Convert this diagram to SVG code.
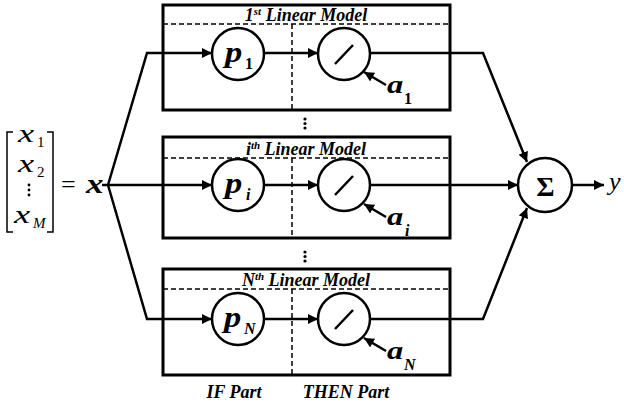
<svg xmlns="http://www.w3.org/2000/svg" width="624" height="404" viewBox="0 0 624 404">
<defs>
<marker id="ah" viewBox="0 0 10 10" refX="10" refY="5" markerWidth="4" markerHeight="4" orient="auto" markerUnits="strokeWidth">
<path d="M0,0 L10,5 L0,10 z" fill="#000"/>
</marker>
</defs>
<style>
.box{fill:#fff;stroke:#000;stroke-width:3}
.dash{fill:none;stroke:#000;stroke-width:1.5;stroke-dasharray:5,3}
.node{fill:#fff;stroke:#000;stroke-width:2.5}
.ln{fill:none;stroke:#000;stroke-width:2.5}
.arr{fill:none;stroke:#000;stroke-width:2.5;marker-end:url(#ah)}
.math{font-family:"Liberation Serif",serif;font-style:italic;font-weight:bold}
.sub{font-family:"Liberation Serif",serif;font-weight:bold;font-size:16px}
.subi{font-family:"Liberation Serif",serif;font-weight:bold;font-style:italic;font-size:16px}
.mreg{font-family:"Liberation Serif",serif;font-style:italic}
.num{font-family:"Liberation Serif",serif;font-size:15px}
.title{font-family:"Liberation Serif",serif;font-style:italic;font-weight:bold;font-size:18px}
.br{fill:none;stroke:#000;stroke-width:1.5}
</style>
<rect width="624" height="404" fill="#fff"/>

<g id="input">
<path class="br" d="M13,132 H7 V232 H13"/>
<path class="br" d="M47,132 H53 V232 H47"/>
<text class="mreg" font-size="26" transform="translate(18,142) scale(1.4,1)">x</text>
<text class="num" x="37" y="147">1</text>
<text class="mreg" font-size="26" transform="translate(18,172) scale(1.4,1)">x</text>
<text class="num" x="37" y="177">2</text>
<circle cx="29" cy="185" r="1.4"/><circle cx="29" cy="190" r="1.4"/><circle cx="29" cy="195" r="1.4"/>
<text class="mreg" font-size="26" transform="translate(14,223) scale(1.4,1)">x</text>
<text class="mreg" x="33" y="228" font-size="15">M</text>
<text font-family="Liberation Serif,serif" x="61" y="193" font-size="26">=</text>
<text class="math" font-size="28" transform="translate(86,193) scale(1.25,1)">x</text>
</g>

<g id="model1">
<rect class="box" x="163" y="5" width="287" height="105"/>
<line class="dash" x1="163" y1="24" x2="450" y2="24"/>
<line class="dash" x1="292" y1="24" x2="292" y2="110"/>
<text class="title" x="306" y="21" text-anchor="middle">1<tspan font-size="11" dy="-6">st</tspan><tspan dy="6"> Linear Model</tspan></text>
</g>
<g id="model_i">
<rect class="box" x="163" y="137" width="287" height="101"/>
<line class="dash" x1="163" y1="158" x2="450" y2="158"/>
<line class="dash" x1="292" y1="158" x2="292" y2="238"/>
<text class="title" x="306" y="155" text-anchor="middle">i<tspan font-size="11" dy="-6">th</tspan><tspan dy="6"> Linear Model</tspan></text>
</g>
<g id="modelN">
<rect class="box" x="163" y="269" width="287" height="106"/>
<line class="dash" x1="163" y1="289" x2="450" y2="289"/>
<line class="dash" x1="292" y1="289" x2="292" y2="375"/>
<text class="title" x="306" y="286" text-anchor="middle">N<tspan font-size="11" dy="-6">th</tspan><tspan dy="6"> Linear Model</tspan></text>
</g>

<g id="vdots">
<circle cx="305" cy="119" r="1.6"/><circle cx="305" cy="123.5" r="1.6"/><circle cx="305" cy="128" r="1.6"/>
<circle cx="305" cy="252" r="1.6"/><circle cx="305" cy="256.5" r="1.6"/><circle cx="305" cy="261" r="1.6"/>
</g>

<g id="connectors">
<polyline class="arr" points="108,185 147,53 212,53"/>
<line class="arr" x1="102" y1="185" x2="212" y2="185"/>
<polyline class="arr" points="108,185 147,319 212,319"/>
<line class="arr" x1="264" y1="53" x2="318" y2="53"/>
<line class="arr" x1="264" y1="185" x2="318" y2="185"/>
<line class="arr" x1="264" y1="319" x2="318" y2="319"/>
<polyline class="arr" points="371,53 483,53 527,162"/>
<line class="arr" x1="371" y1="185" x2="518" y2="185"/>
<polyline class="arr" points="371,319 483,319 527,208"/>
<line class="arr" x1="573" y1="185" x2="604" y2="185"/>
<line class="arr" x1="386" y1="85" x2="364" y2="72"/>
<line class="arr" x1="386" y1="217" x2="364" y2="204"/>
<line class="arr" x1="386" y1="351" x2="364" y2="338"/>
</g>

<g id="p1"><circle class="node" cx="238" cy="54" r="26"/>
<text class="math" font-size="30" transform="translate(225,62) scale(1.15,1)">p</text><text class="sub" x="245" y="69">1</text></g>
<g id="pi"><circle class="node" cx="238" cy="185" r="26"/>
<text class="math" font-size="30" transform="translate(225,193) scale(1.15,1)">p</text><text class="subi" x="246" y="200">i</text></g>
<g id="pN"><circle class="node" cx="238" cy="319" r="26"/>
<text class="math" font-size="30" transform="translate(224,327) scale(1.15,1)">p</text><text class="subi" x="244" y="334">N</text></g>

<g id="lin1"><circle class="node" cx="344" cy="54" r="26"/><line class="ln" x1="335" y1="64" x2="353" y2="45"/></g>
<g id="lin_i"><circle class="node" cx="344" cy="185" r="26"/><line class="ln" x1="335" y1="195" x2="353" y2="176"/></g>
<g id="linN"><circle class="node" cx="344" cy="319" r="26"/><line class="ln" x1="335" y1="329" x2="353" y2="310"/></g>

<g id="a1"><text class="math" font-size="26" transform="translate(387,93) scale(1.25,1)">a</text><text class="sub" x="404" y="104">1</text></g>
<g id="a_i"><text class="math" font-size="26" transform="translate(387,225) scale(1.25,1)">a</text><text class="subi" x="405" y="236">i</text></g>
<g id="aN"><text class="math" font-size="26" transform="translate(387,359) scale(1.25,1)">a</text><text class="subi" x="404" y="370">N</text></g>

<g id="sum"><circle class="node" cx="545" cy="185" r="27"/>
<text font-family="Liberation Serif,serif" font-weight="bold" x="545.5" y="196" font-size="28" text-anchor="middle">Σ</text></g>
<g id="output"><text class="mreg" x="609" y="190" font-size="26">y</text></g>

<g id="labels">
<text class="title" x="234" y="398" text-anchor="middle">IF Part</text>
<text class="title" x="346" y="398" text-anchor="middle">THEN Part</text>
</g>
</svg>
